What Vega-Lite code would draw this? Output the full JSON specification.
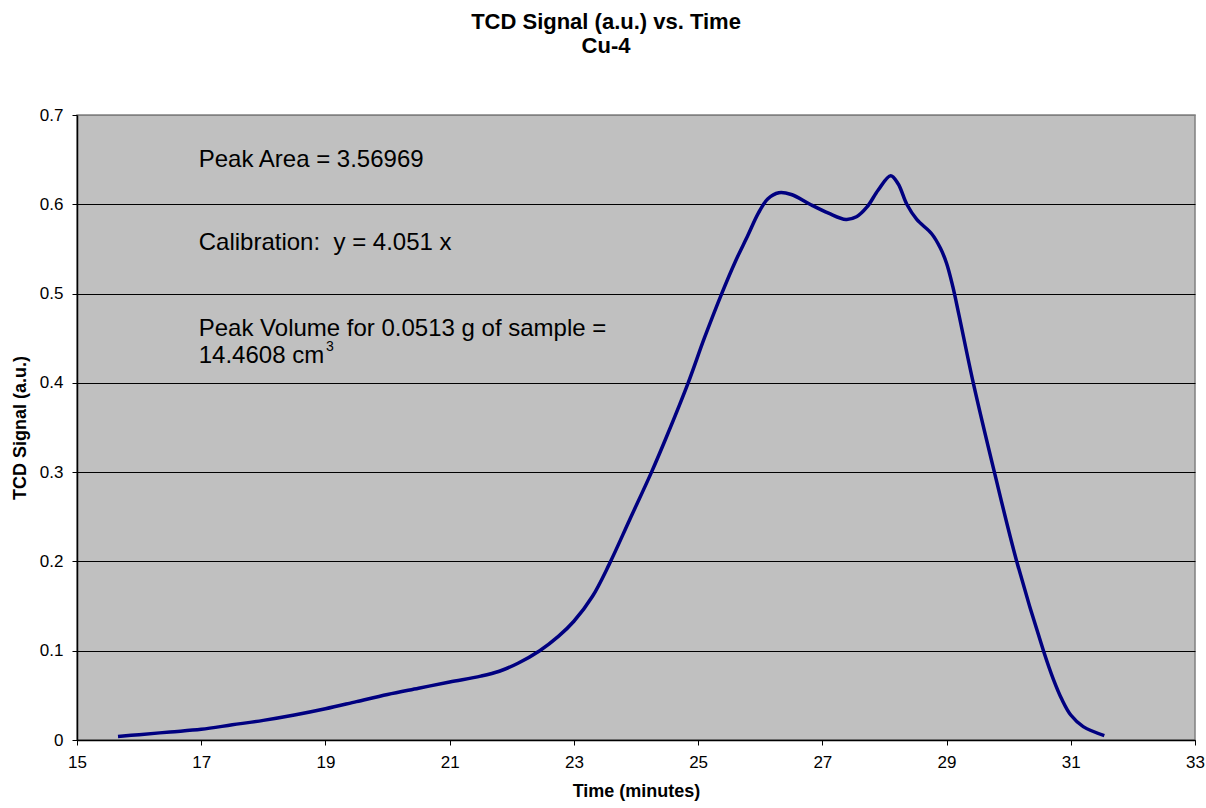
{
  "$schema": "https://vega.github.io/schema/vega-lite/v6.json",
  "width": 1118,
  "height": 625,
  "autosize": "none",
  "padding": {"left": 77, "top": 115, "right": 11, "bottom": 68},
  "background": "white",
  "config": {
    "font": "Liberation Sans",
    "view": {"fill": "#C0C0C0", "stroke": "#808080", "strokeWidth": 1.5}
  },
  "title": {
    "text": ["TCD Signal (a.u.) vs. Time", "Cu-4"],
    "fontSize": 22,
    "fontWeight": "bold",
    "color": "black",
    "anchor": "middle",
    "dx": -30,
    "offset": 48,
    "lineHeight": 24
  },
  "datasets": {
    "tcd": [
      {"time": 15.66, "signal": 0.004},
      {"time": 16.0, "signal": 0.006},
      {"time": 16.5, "signal": 0.009},
      {"time": 17.0, "signal": 0.012},
      {"time": 17.5, "signal": 0.017},
      {"time": 18.0, "signal": 0.022},
      {"time": 18.5, "signal": 0.028},
      {"time": 19.0, "signal": 0.035},
      {"time": 19.5, "signal": 0.043},
      {"time": 20.0, "signal": 0.051},
      {"time": 20.5, "signal": 0.058},
      {"time": 21.0, "signal": 0.065},
      {"time": 21.5, "signal": 0.0715},
      {"time": 21.8, "signal": 0.077},
      {"time": 22.1, "signal": 0.086},
      {"time": 22.45, "signal": 0.1},
      {"time": 22.75, "signal": 0.116},
      {"time": 23.0, "signal": 0.133},
      {"time": 23.3, "signal": 0.161},
      {"time": 23.57, "signal": 0.197},
      {"time": 23.9, "signal": 0.247},
      {"time": 24.25, "signal": 0.3},
      {"time": 24.5, "signal": 0.341},
      {"time": 24.84, "signal": 0.4},
      {"time": 25.1, "signal": 0.45},
      {"time": 25.38, "signal": 0.5},
      {"time": 25.6, "signal": 0.536},
      {"time": 25.8, "signal": 0.565},
      {"time": 25.97, "signal": 0.59},
      {"time": 26.12, "signal": 0.606},
      {"time": 26.3, "signal": 0.613},
      {"time": 26.5, "signal": 0.611},
      {"time": 26.8, "signal": 0.6},
      {"time": 27.1, "signal": 0.59},
      {"time": 27.38, "signal": 0.583},
      {"time": 27.55, "signal": 0.586},
      {"time": 27.72, "signal": 0.597},
      {"time": 27.9, "signal": 0.616},
      {"time": 28.1, "signal": 0.632},
      {"time": 28.22, "signal": 0.623},
      {"time": 28.36, "signal": 0.6},
      {"time": 28.52, "signal": 0.583},
      {"time": 28.76, "signal": 0.567},
      {"time": 28.9, "signal": 0.551},
      {"time": 29.0, "signal": 0.534},
      {"time": 29.1, "signal": 0.508},
      {"time": 29.2, "signal": 0.476},
      {"time": 29.43, "signal": 0.4},
      {"time": 29.77, "signal": 0.3},
      {"time": 30.13, "signal": 0.2},
      {"time": 30.56, "signal": 0.1},
      {"time": 30.72, "signal": 0.068},
      {"time": 30.86, "signal": 0.045},
      {"time": 31.0, "signal": 0.028},
      {"time": 31.2, "signal": 0.015},
      {"time": 31.54, "signal": 0.005}
    ],
    "notes": [
      {"label": "Peak Area = 3.56969", "t": 16.96, "s": 0.6414, "kind": "main"},
      {"label": "Calibration:\u00a0 y = 4.051 x", "t": 16.96, "s": 0.5488, "kind": "main"},
      {"label": "Peak Volume for 0.0513 g of sample =", "t": 16.96, "s": 0.4525, "kind": "main"},
      {"label": "14.4608 cm", "t": 16.96, "s": 0.4226, "kind": "main"},
      {"label": "3", "t": 19.01, "s": 0.436, "kind": "sup"}
    ]
  },
  "layer": [
    {
      "data": {"name": "tcd"},
      "mark": {"type": "line", "color": "#000080", "strokeWidth": 3.5, "interpolate": "catmull-rom"},
      "encoding": {
        "x": {
          "field": "time",
          "type": "quantitative",
          "scale": {"domain": [15, 33], "nice": false, "zero": false},
          "axis": {
            "title": "Time (minutes)",
            "values": [15, 17, 19, 21, 23, 25, 27, 29, 31, 33],
            "format": "d",
            "grid": false,
            "domainColor": "black",
            "domainWidth": 1.5,
            "tickColor": "black",
            "tickSize": 5,
            "labelFontSize": 17,
            "labelColor": "black",
            "labelPadding": 9,
            "labelFlush": false,
            "labelOverlap": false,
            "titleFontSize": 18,
            "titleFontWeight": "bold",
            "titleColor": "black",
            "titlePadding": 12
          }
        },
        "y": {
          "field": "signal",
          "type": "quantitative",
          "scale": {"domain": [0, 0.7], "nice": false},
          "axis": {
            "title": "TCD Signal (a.u.)",
            "values": [0, 0.1, 0.2, 0.3, 0.4, 0.5, 0.6, 0.7],
            "format": "~g",
            "grid": true,
            "gridColor": {"condition": {"test": "datum.value >= 0.7", "value": "#808080"}, "value": "#000000"},
            "gridWidth": 1,
            "domainColor": "black",
            "domainWidth": 1.5,
            "tickColor": "black",
            "tickSize": 5,
            "labelFontSize": 17,
            "labelColor": "black",
            "labelPadding": 9,
            "labelFlush": false,
            "labelOverlap": false,
            "titleFontSize": 18,
            "titleFontWeight": "bold",
            "titleColor": "black",
            "titlePadding": 10
          }
        }
      }
    },
    {
      "data": {"name": "notes"},
      "transform": [{"filter": "datum.kind === 'main'"}],
      "mark": {"type": "text", "align": "left", "baseline": "alphabetic", "fontSize": 24, "color": "black"},
      "encoding": {
        "x": {"field": "t", "type": "quantitative"},
        "y": {"field": "s", "type": "quantitative"},
        "text": {"field": "label"}
      }
    },
    {
      "data": {"name": "notes"},
      "transform": [{"filter": "datum.kind === 'sup'"}],
      "mark": {"type": "text", "align": "left", "baseline": "alphabetic", "fontSize": 14, "color": "black"},
      "encoding": {
        "x": {"field": "t", "type": "quantitative"},
        "y": {"field": "s", "type": "quantitative"},
        "text": {"field": "label"}
      }
    }
  ]
}
